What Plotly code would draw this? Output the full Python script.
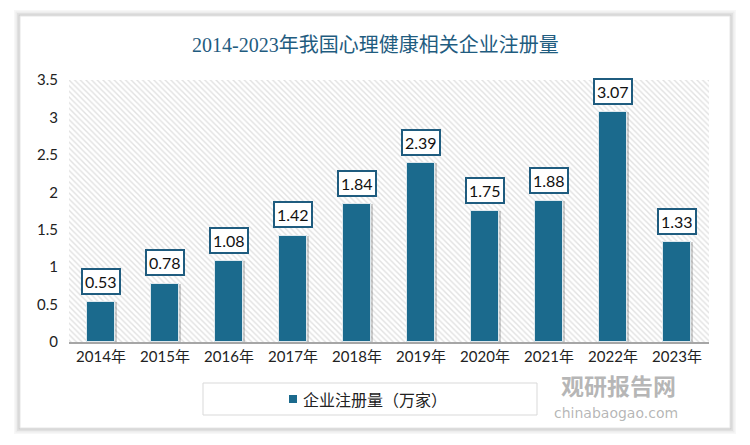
import plotly.graph_objects as go

categories = ["2014年", "2015年", "2016年", "2017年", "2018年", "2019年", "2020年", "2021年", "2022年", "2023年"]
values = [0.53, 0.78, 1.08, 1.42, 1.84, 2.39, 1.75, 1.88, 3.07, 1.33]
y_ticks = [0, 0.5, 1, 1.5, 2, 2.5, 3, 3.5]
y_ticktext = ["0", "0.5", "1", "1.5", "2", "2.5", "3", "3.5"]
series_name = "企业注册量（万家）"
title = "2014-2023年我国心理健康相关企业注册量"

W, H = 750, 445
L, R, T, B = 69, 41, 80, 103
PW, PH = W - L - R, H - T - B
BAR = "#1b6a8d"
DARK = "#1f5c7f"


def px(x):
    return (x - L) / PW


def py(y):
    return (H - B - y) / PH


xs = list(range(len(categories)))
fig = go.Figure()

# hatched plot background
fig.add_trace(go.Bar(
    x=[(len(xs) - 1) / 2], y=[y_ticks[-1]], width=[len(xs)],
    marker=dict(color="white", line=dict(width=0),
                pattern=dict(shape="\\", fgcolor="#c4c4c4", bgcolor="white", size=4, solidity=0.35)),
    showlegend=False, hoverinfo="skip"))

# bar shadow
fig.add_trace(go.Bar(
    x=xs, y=values, width=0.44, offset=-0.19,
    marker=dict(color="rgba(0,0,0,0.18)", line=dict(width=0)),
    showlegend=False, hoverinfo="skip"))

fig.add_trace(go.Bar(
    x=xs, y=values, width=0.44, offset=-0.22, name=series_name, showlegend=False,
    marker=dict(color=BAR, line=dict(color="#dfe9ee", width=1))))

annotations = []
for x, v in zip(xs, values):
    annotations.append(dict(
        x=x, y=v, xref="x", yref="y", text=f"{v:.2f}", showarrow=False,
        yshift=21, font=dict(family="Lato, Noto Sans", size=16, color="#111"),
        bgcolor="white", bordercolor=DARK, borderwidth=2, borderpad=2))

annotations.append(dict(
    x=px(375), y=py(45), xref="paper", yref="paper", text=title, showarrow=False,
    xanchor="center", yanchor="middle",
    font=dict(family="Liberation Serif, Noto Sans CJK SC", size=20, color=DARK)))

# legend (manual box, marker and text)
annotations.append(dict(
    x=px(301), y=py(399), xref="paper", yref="paper", text=series_name, showarrow=False,
    xanchor="left", yanchor="middle",
    font=dict(family="Noto Sans CJK SC", size=16, color="#222")))

# watermark
annotations.append(dict(
    x=px(618), y=py(385), xref="paper", yref="paper", text="<b>观研报告网</b>", showarrow=False,
    xanchor="center", yanchor="middle",
    font=dict(family="Noto Sans CJK SC", size=23, color="rgba(110,110,110,0.5)")))
annotations.append(dict(
    x=px(616), y=py(413), xref="paper", yref="paper", text="chinabaogao.com", showarrow=False,
    xanchor="center", yanchor="middle",
    font=dict(family="DejaVu Sans", size=14, color="rgba(120,120,120,0.55)")))

shapes = []
# card shadow
for i, a in enumerate([0.03, 0.04, 0.05, 0.06]):
    d = 6 - i * 1.5
    shapes.append(dict(type="rect", xref="paper", yref="paper", layer="below",
                       x0=px(20 - d), x1=px(730 + d), y0=py(16 - d), y1=py(428 + d),
                       fillcolor=f"rgba(0,0,0,{a})", line=dict(width=0)))
shapes.append(dict(type="rect", xref="paper", yref="paper", layer="below",
                   x0=px(20), x1=px(730), y0=py(16), y1=py(428),
                   fillcolor="white", line=dict(color="#e6e6e6", width=1)))
# legend box
shapes.append(dict(type="rect", xref="paper", yref="paper", layer="below",
                   x0=px(203), x1=px(537), y0=py(383), y1=py(415),
                   fillcolor="white", line=dict(color="#d9d9d9", width=1)))
shapes.append(dict(type="rect", xref="paper", yref="paper",
                   x0=px(289), x1=px(297), y0=py(395), y1=py(403),
                   fillcolor=BAR, line=dict(width=0)))

fig.update_layout(
    width=W, height=H,
    margin=dict(l=L, r=R, t=T, b=B),
    paper_bgcolor="white", plot_bgcolor="rgba(0,0,0,0)",
    barmode="overlay", bargap=0, showlegend=False,
    xaxis=dict(tickvals=xs, ticktext=categories, range=[-0.5, len(xs) - 0.5],
               showgrid=False, zeroline=False, showline=True, linecolor="#a6a6a6", linewidth=1.5,
               ticks="", tickfont=dict(family="Lato, Noto Sans CJK SC", size=15, color="#222")),
    yaxis=dict(range=[0, 3.5], tickvals=y_ticks, ticktext=y_ticktext, showgrid=False, zeroline=False,
               showline=False, ticks="", ticklabelstandoff=10,
               tickfont=dict(family="Lato, Noto Sans", size=15, color="#222")),
    annotations=annotations, shapes=shapes,
)

fig.write_html("out.html")
